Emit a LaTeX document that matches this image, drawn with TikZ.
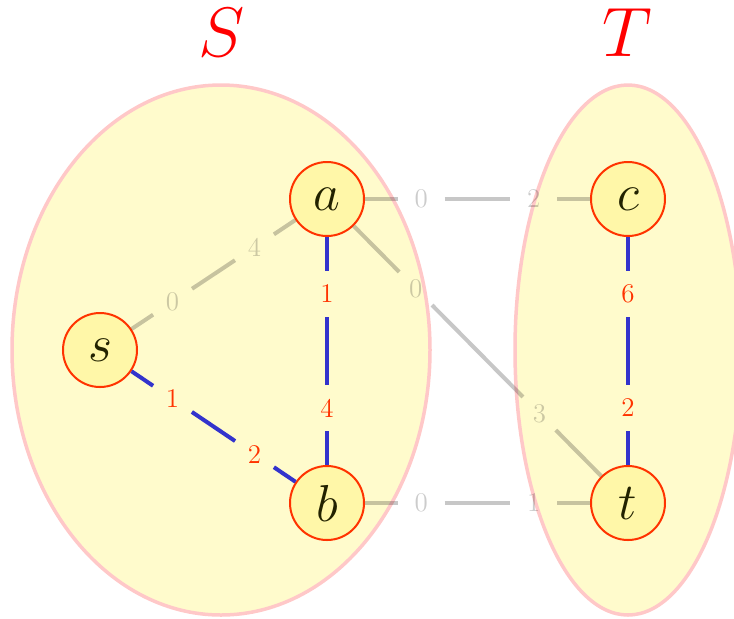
\RequirePackage{fix-cm}
\documentclass[tikz,border=0pt]{standalone}
\usetikzlibrary{calc}
\definecolor{ellfill}{RGB}{255,251,204}
\definecolor{elldraw}{RGB}{255,200,200}
\definecolor{nodefill}{RGB}{255,247,168}
\definecolor{nodedraw}{RGB}{255,51,0}
\definecolor{blueedge}{RGB}{51,51,204}
\definecolor{lblred}{RGB}{255,51,0}
\definecolor{nodetext}{RGB}{34,34,0}
\tikzset{
  vtx/.style={circle, draw=nodedraw, fill=nodefill, line width=1pt, minimum size=37pt, inner sep=0pt, text=nodetext, font=\fontsize{26}{30}\selectfont},
  region/.style={fill=ellfill, draw=elldraw, line width=1.75pt},
  setlbl/.style={text=red, font=\fontsize{35}{40}\selectfont, inner sep=0pt},
  lblbase/.style={circle, minimum size=23pt, inner sep=0pt, font=\fontsize{13.5}{16}\selectfont},
  lblred/.style={lblbase, text=lblred},
  lblgray/.style={lblbase, text=black, text opacity=0.2},
  grayedge/.style={draw=black, draw opacity=0.22, line width=2pt},
  bluedge/.style={draw=blueedge, line width=2pt},
}
\begin{document}
\begin{tikzpicture}[x=0.5pt, y=-0.5pt]
\useasboundingbox (0,0) rectangle (734,618);
% regions
\draw[region] (221,350) ellipse [x radius=209, y radius=265];
\draw[region] (628,350) ellipse [x radius=113, y radius=265];
\node[setlbl] (Slbl) at (222,33) {$S$};
\node[setlbl] (Tlbl) at (627,33) {$T$};
% vertices
\node[vtx] (s) at (100,350) {$s$};
\node[vtx] (a) at (327,199) {$a$};
\node[vtx] (b) at (327,503) {$b$};
\node[vtx] (c) at (628,199) {$c$};
\node[vtx] (t) at (628,503) {$t$};
% label positions
\path (s) -- node[lblgray, pos=0.25] (sa1) {0} node[lblgray, pos=0.75] (sa2) {4} (a);
\path (s) -- node[lblred, pos=0.25] (sb1) {1} node[lblred, pos=0.75] (sb2) {2} (b);
\path (a) -- node[lblred, pos=0.25] (ab1) {1} node[lblred, pos=0.75] (ab2) {4} (b);
\path (a) -- node[lblgray, pos=0.25] (ac1) {0} node[lblgray, pos=0.75] (ac2) {2} (c);
\path (a) -- node[lblgray, pos=0.25] (at1) {0} node[lblgray, pos=0.75] (at2) {3} (t);
\path (b) -- node[lblgray, pos=0.25] (bt1) {0} node[lblgray, pos=0.75] (bt2) {1} (t);
\path (c) -- node[lblred, pos=0.25] (ct1) {6} node[lblred, pos=0.75] (ct2) {2} (t);
% edges
\draw[grayedge] (s) -- (sa1) (sa1) -- (sa2) (sa2) -- (a);
\draw[grayedge] (a) -- (ac1) (ac1) -- (ac2) (ac2) -- (c);
\draw[grayedge] (a) -- (at1) (at1) -- (at2) (at2) -- (t);
\draw[grayedge] (b) -- (bt1) (bt1) -- (bt2) (bt2) -- (t);
\draw[bluedge] (s) -- (sb1) (sb1) -- (sb2) (sb2) -- (b);
\draw[bluedge] (a) -- (ab1) (ab1) -- (ab2) (ab2) -- (b);
\draw[bluedge] (c) -- (ct1) (ct1) -- (ct2) (ct2) -- (t);
\end{tikzpicture}
\end{document}
